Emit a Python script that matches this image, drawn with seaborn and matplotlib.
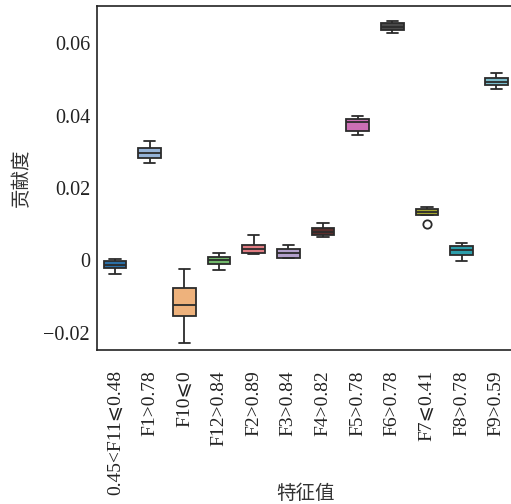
import numpy as np
import pandas as pd
import matplotlib
matplotlib.use("Agg")
import matplotlib.pyplot as plt
import seaborn as sns

# Feature conditions (x categories)
features = ["0.45<F11⩽0.48", "F1>0.78", "F10⩽0", "F12>0.84", "F2>0.89", "F3>0.84",
            "F4>0.82", "F5>0.78", "F6>0.78", "F7⩽0.41", "F8>0.78", "F9>0.59"]

# Five-number summaries of the contribution for each feature
whisker_low  = [-0.0039, 0.0270, -0.0228, -0.0028, 0.0017, 0.0006, 0.0065, 0.0348, 0.0628, 0.0125, -0.0002, 0.0475]
q1           = [-0.0022, 0.0284, -0.0154, -0.0009, 0.0020, 0.0007, 0.0071, 0.0357, 0.0637, 0.0126,  0.0014, 0.0484]
median       = [-0.0012, 0.0298, -0.0125,  0.0000, 0.0031, 0.0019, 0.0079, 0.0383, 0.0646, 0.0134,  0.0028, 0.0494]
q3           = [-0.0003, 0.0312, -0.0078,  0.0009, 0.0042, 0.0030, 0.0088, 0.0390, 0.0657, 0.0143,  0.0040, 0.0503]
whisker_high = [ 0.0003, 0.0331, -0.0025,  0.0019, 0.0071, 0.0043, 0.0102, 0.0400, 0.0663, 0.0146,  0.0049, 0.0517]

# Outlying observations
outlier_feature = ["F7⩽0.41"]
outlier_value = [0.0099]

box_colors = ["#2b6fa6", "#95b3d8", "#eeb27c", "#72b86b", "#e07c82", "#b3a0cc",
              "#5a2e2c", "#cc6fb5", "#4a4a4a", "#a5a631", "#2c9eab", "#7bbccb"]

y_ticks = [-0.02, 0.0, 0.02, 0.04, 0.06]
y_tick_labels = ["\u22120.02", "0", "0.02", "0.04", "0.06"]

x_title = "特征值"
y_title = "贡献度"

rows = []
for name, a, b, c, d, e in zip(features, whisker_low, q1, median, q3, whisker_high):
    for v in (a, b, c, d, e):
        rows.append({"feature": name, "value": v})
df = pd.DataFrame(rows)
out_df = pd.DataFrame({"feature": outlier_feature, "value": outlier_value})

sns.set_style("white")
plt.rcParams["font.family"] = ["Liberation Serif", "DejaVu Sans"]

fig = plt.figure(figsize=(5.11, 5.04), dpi=100)
ax = fig.add_axes([97 / 511, (504 - 349.5) / 504, 416 / 511, 344 / 504])

line_col = "#2b2b2b"
sns.boxplot(data=df, x="feature", y="value", order=features, hue="feature",
            hue_order=features, palette=box_colors, saturation=1, width=0.65,
            linecolor=line_col, linewidth=1.3, showfliers=False, legend=False, ax=ax)
sns.stripplot(data=out_df, x="feature", y="value", order=features, jitter=False,
              color="white", edgecolor=line_col, linewidth=1.3, size=6, ax=ax, zorder=5)

ax.set_xlim(-0.52, 11.48)
ax.set_ylim(-0.0247, 0.0705)
ax.set_yticks(y_ticks)
ax.set_yticklabels(y_tick_labels)
ax.set_xticks(range(len(features)))
ax.set_xticklabels(features, rotation=90)

ax.tick_params(axis="y", direction="in", length=4, width=1, pad=5, labelsize=14.5, colors="#222222")
ax.tick_params(axis="x", direction="out", length=7, width=1, pad=8, labelsize=14, colors="#222222")

for side in ("left", "bottom", "top", "right"):
    ax.spines[side].set_color("#222222")
    ax.spines[side].set_linewidth(1.2)

ax.set_xlabel(x_title, fontfamily="Noto Sans CJK SC", fontsize=14, color="#333333")
ax.set_ylabel(y_title, fontfamily="Noto Sans CJK SC", fontsize=14, color="#333333")
ax.xaxis.set_label_coords(0.5, -0.388)
ax.yaxis.set_label_coords(-0.156, 0.5)

fig.savefig("out.png", dpi=100)
